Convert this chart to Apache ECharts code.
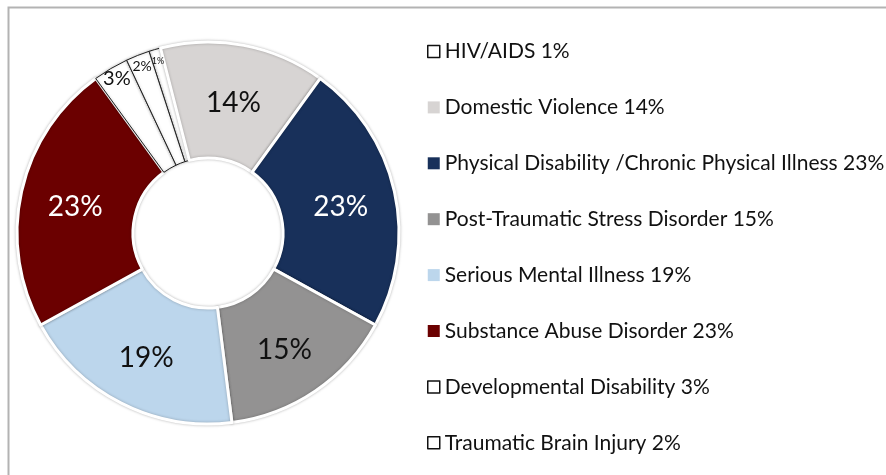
<!DOCTYPE html>
<html>
<head>
<meta charset="utf-8">
<script src="https://cdn.jsdelivr.net/npm/echarts@6/dist/echarts.min.js"></script>
<style>
  html, body { margin: 0; padding: 0; background: #fff; }
  #chart { width: 886px; height: 475px; }
</style>
</head>
<body>
<div id="chart"></div>
<script>
// 数据
var categories = [
  "HIV/AIDS",
  "Domestic Violence",
  "Physical Disability /Chronic Physical Illness",
  "Post-Traumatic Stress Disorder",
  "Serious Mental Illness",
  "Substance Abuse Disorder",
  "Developmental Disability",
  "Traumatic Brain Injury"
];
var percents = [1, 14, 23, 15, 19, 23, 3, 2];

// 颜色 / 样式
var sliceColors = ["#ffffff", "#d7d4d3", "#18305a", "#939292", "#bcd6ec", "#6b0000", "#ffffff", "#ffffff"];
var labelColors = ["#111", "#111", "#fff", "#111", "#111", "#fff", "#111", "#111"];
var smallLabelSize = { 1: 9, 2: 14, 3: 20 };

var chart = echarts.init(document.getElementById("chart"));

function isWhite(i) {
  return sliceColors[i] === "#ffffff";
}

var mainData = categories.map(function (name, i) {
  return {
    name: name,
    value: percents[i],
    itemStyle: {
      color: sliceColors[i],
      borderColor: isWhite(i) ? "#222" : "#fff",
      borderWidth: isWhite(i) ? 1 : 3,
      shadowBlur: 3,
      shadowColor: "rgba(0,0,0,0.25)"
    },
    label: {
      show: percents[i] >= 10,
      color: labelColors[i]
    }
  };
});

// 小扇区的标签放在外圈
var outerData = categories.map(function (name, i) {
  return {
    name: name,
    value: percents[i],
    label: {
      show: percents[i] < 10,
      fontSize: smallLabelSize[percents[i]] || 12
    }
  };
});

var legendData = categories.map(function (name, i) {
  return {
    name: name,
    itemStyle: isWhite(i)
      ? { color: "#fff", borderColor: "#111", borderWidth: 1.5 }
      : { color: sliceColors[i], borderWidth: 0 }
  };
});

var option = {
  animation: false,
  backgroundColor: "#fff",
  graphic: [{
    type: "rect",
    left: 6,
    top: 5,
    shape: { width: 1000, height: 1000 },
    style: { fill: "none", stroke: "#b3b3b3", lineWidth: 2 },
    silent: true
  }],
  legend: {
    orient: "vertical",
    left: 422,
    top: 36,
    itemWidth: 12,
    itemHeight: 12,
    itemGap: 34.9,
    icon: "rect",
    textStyle: {
      fontFamily: "Lato",
      fontSize: 21,
      color: "#111"
    },
    formatter: function (name) {
      var i = categories.indexOf(name);
      return name + " " + percents[i] + "%";
    },
    data: legendData
  },
  series: [
    {
      type: "pie",
      radius: [75, 191],
      center: [208, 233],
      startAngle: 108,
      clockwise: true,
      avoidLabelOverlap: false,
      label: {
        position: "inside",
        formatter: "{c}%",
        fontFamily: "Lato",
        fontSize: 28,
        offset: [0, 4]
      },
      labelLine: { show: false },
      labelLayout: { hideOverlap: false },
      emphasis: { disabled: true },
      data: mainData
    },
    {
      type: "pie",
      radius: [160, 192],
      center: [208, 233],
      startAngle: 108,
      clockwise: true,
      silent: true,
      legendHoverLink: false,
      avoidLabelOverlap: false,
      itemStyle: { color: "rgba(0,0,0,0)", borderWidth: 0 },
      label: {
        position: "inside",
        formatter: "{c}%",
        fontFamily: "Lato",
        color: "#111"
      },
      labelLine: { show: false },
      labelLayout: { hideOverlap: false },
      emphasis: { disabled: true },
      data: outerData
    }
  ]
};

chart.setOption(option);
</script>
</body>
</html>
